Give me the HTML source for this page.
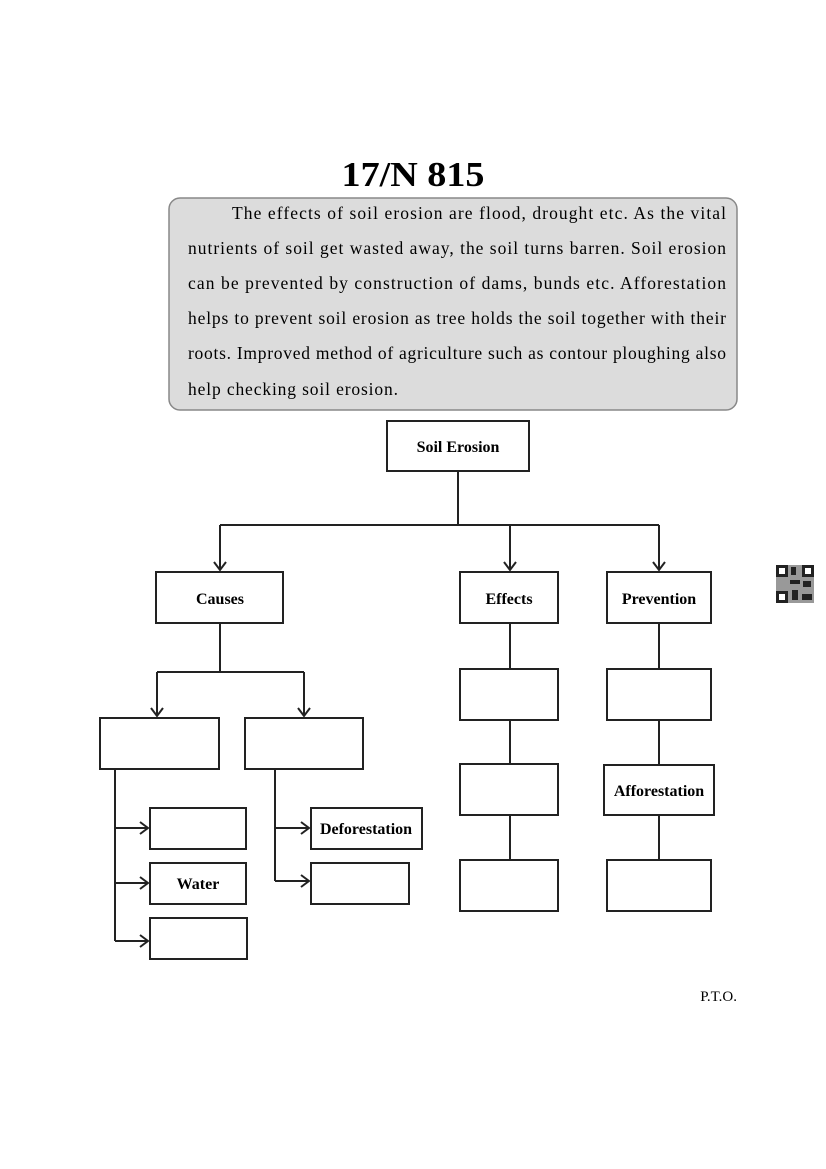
<!DOCTYPE html>
<html><head><meta charset="utf-8"><style>
html,body{margin:0;padding:0;background:#fff;}
svg{display:block;}
text{font-family:"Liberation Serif",serif;fill:#000;}
.b{fill:#fff;stroke:#222;stroke-width:2;}
.l{stroke:#222;stroke-width:2;fill:none;}
.lbl{font-size:16px;font-weight:bold;text-anchor:middle;}
.p{font-size:17.5px;}
</style></head><body>
<svg width="826" height="1169" viewBox="0 0 826 1169" xmlns="http://www.w3.org/2000/svg">
<text x="413" y="186" font-size="35" font-weight="bold" text-anchor="middle" textLength="143" lengthAdjust="spacingAndGlyphs">17/N 815</text>
<rect x="169" y="198" width="568" height="212" rx="11" fill="#dcdcdc" stroke="#888" stroke-width="1.5"/>
<g class="p">
<text x="232" y="219" textLength="494" lengthAdjust="spacing">The effects of soil erosion are flood, drought etc. As the vital</text>
<text x="188" y="254" textLength="538" lengthAdjust="spacing">nutrients of soil get wasted away, the soil turns barren. Soil erosion</text>
<text x="188" y="289" textLength="538" lengthAdjust="spacing">can be prevented by construction of dams, bunds etc. Afforestation</text>
<text x="188" y="324" textLength="538" lengthAdjust="spacing">helps to prevent soil erosion as tree holds the soil together with their</text>
<text x="188" y="359" textLength="538" lengthAdjust="spacing">roots. Improved method of agriculture such as contour ploughing also</text>
<text x="188" y="395" textLength="210" lengthAdjust="spacing">help checking soil erosion.</text>
</g>
<path class="l" d="M458 471V525M220 525H659M220 525V570M510 525V570M659 525V570"/>
<path class="l" d="M214 562L220 570L226 562M504 562L510 570L516 562M653 562L659 570L665 562"/>
<path class="l" d="M220 623V672M157 672H304M157 672V716M304 672V716"/>
<path class="l" d="M151 708L157 716L163 708M298 708L304 716L310 708"/>
<path class="l" d="M115 769V941M115 828H148M115 883H148M115 941H148"/>
<path class="l" d="M140 822L148 828L140 834M140 877L148 883L140 889M140 935L148 941L140 947"/>
<path class="l" d="M275 769V881M275 828H309M275 881H309"/>
<path class="l" d="M301 822L309 828L301 834M301 875L309 881L301 887"/>
<path class="l" d="M510 623V860M659 623V860"/>
<rect class="b" x="387" y="421" width="142" height="50"/>
<text class="lbl" x="458" y="452">Soil Erosion</text>
<rect class="b" x="156" y="572" width="127" height="51"/>
<text class="lbl" x="220" y="604">Causes</text>
<rect class="b" x="460" y="572" width="98" height="51"/>
<text class="lbl" x="509" y="604">Effects</text>
<rect class="b" x="607" y="572" width="104" height="51"/>
<text class="lbl" x="659" y="604">Prevention</text>
<rect class="b" x="100" y="718" width="119" height="51"/>
<rect class="b" x="245" y="718" width="118" height="51"/>
<rect class="b" x="150" y="808" width="96" height="41"/>
<rect class="b" x="150" y="863" width="96" height="41"/>
<text class="lbl" x="198" y="889">Water</text>
<rect class="b" x="150" y="918" width="97" height="41"/>
<rect class="b" x="311" y="808" width="111" height="41"/>
<text class="lbl" x="366" y="834">Deforestation</text>
<rect class="b" x="311" y="863" width="98" height="41"/>
<rect class="b" x="460" y="669" width="98" height="51"/>
<rect class="b" x="460" y="764" width="98" height="51"/>
<rect class="b" x="460" y="860" width="98" height="51"/>
<rect class="b" x="607" y="669" width="104" height="51"/>
<rect class="b" x="604" y="765" width="110" height="50"/>
<text class="lbl" x="659" y="796">Afforestation</text>
<rect class="b" x="607" y="860" width="104" height="51"/>
<text x="737" y="1001" font-size="15" text-anchor="end">P.T.O.</text>
<g fill="#222">
<rect x="776" y="565" width="38" height="38" fill="#999"/>
<rect x="776" y="565" width="12" height="12"/><rect x="802" y="565" width="12" height="12"/><rect x="776" y="591" width="12" height="12"/>
<rect x="779" y="568" width="6" height="6" fill="#fff"/><rect x="805" y="568" width="6" height="6" fill="#fff"/><rect x="779" y="594" width="6" height="6" fill="#fff"/>
<rect x="791" y="567" width="5" height="8"/><rect x="790" y="580" width="10" height="4"/><rect x="803" y="581" width="8" height="6"/><rect x="792" y="590" width="6" height="10"/><rect x="802" y="594" width="10" height="6"/>
</g>
</svg>
</body></html>
